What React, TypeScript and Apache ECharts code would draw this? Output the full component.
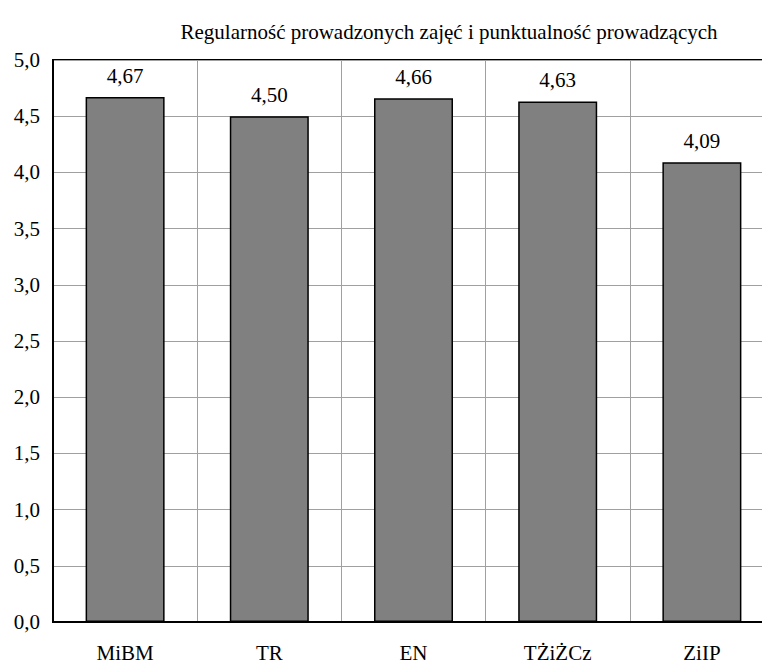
import React, { useEffect, useRef } from "react";
import * as echarts from "echarts";

const categories = ["MiBM", "TR", "EN", "TŻiŻCz", "ZiIP"];
const values = [4.67, 4.5, 4.66, 4.63, 4.09];
const titleText = "Regularność prowadzonych zajęć i punktualność prowadzących";

const FONT = "'Liberation Serif', 'Times New Roman', serif";

export default function App() {
  const ref = useRef<HTMLDivElement>(null);
  useEffect(() => {
    if (!ref.current) return;
    const chart = echarts.init(ref.current, null, { renderer: "svg" });
    chart.setOption({
      animation: false,
      backgroundColor: "#ffffff",
      title: {
        text: titleText,
        left: 444,
        top: 16,
        textAlign: "center",
        textStyle: { fontFamily: FONT, fontSize: 21, fontWeight: "normal", color: "#000" },
      },
      grid: {
        left: 53,
        top: 60,
        width: 721,
        height: 562,
        show: true,
        borderColor: "#000",
        borderWidth: 2,
        containLabel: false,
        outerBoundsMode: "none",
      },
      xAxis: {
        type: "category",
        data: categories,
        boundaryGap: true,
        axisLine: { show: true, lineStyle: { color: "#000", width: 2 } },
        axisTick: { show: false },
        splitLine: { show: true, lineStyle: { color: "#a0a0a0", width: 1 } },
        axisLabel: { fontFamily: FONT, fontSize: 21, color: "#000", margin: 20 },
      },
      yAxis: {
        type: "value",
        min: 0,
        max: 5,
        interval: 0.5,
        axisLine: { show: true, lineStyle: { color: "#000", width: 2 } },
        axisTick: { show: false },
        splitLine: { show: true, lineStyle: { color: "#a0a0a0", width: 1 } },
        axisLabel: {
          fontFamily: FONT,
          fontSize: 21,
          color: "#000",
          margin: 13,
          formatter: (v: number) => v.toFixed(1).replace(".", ","),
        },
      },
      series: [
        {
          type: "bar",
          data: values,
          barWidth: 79,
          itemStyle: { color: "#808080", borderColor: "#000", borderWidth: 1.5 },
          label: {
            show: true,
            position: "top",
            distance: 11,
            fontFamily: FONT,
            fontSize: 21,
            color: "#000",
            formatter: (p: any) => Number(p.value).toFixed(2).replace(".", ","),
          },
        },
      ],
    });
    return () => chart.dispose();
  }, []);
  return (
    <div
      ref={ref}
      style={{ position: "fixed", left: 0, top: 0, width: 762, height: 664 }}
    />
  );
}
